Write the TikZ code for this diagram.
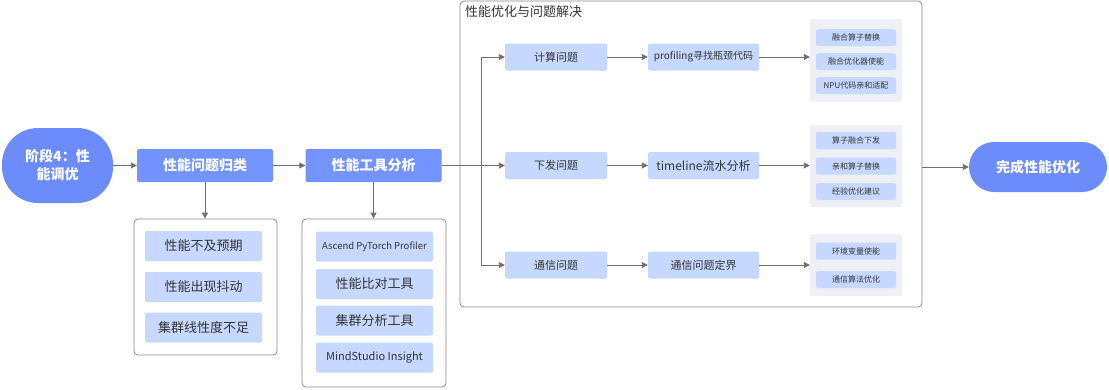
\documentclass[tikz,border=0pt]{standalone}
\usepackage{fontspec}
\setmainfont{Noto Sans CJK SC}
\usetikzlibrary{arrows.meta,positioning}
\definecolor{cdark}{HTML}{7394FF}
\definecolor{cstage}{HTML}{6B8CFA}
\definecolor{clight}{HTML}{C6D8FF}
\definecolor{cgroup}{HTML}{EEF0F5}
\definecolor{cline}{HTML}{6E6E74}
\definecolor{cborder}{HTML}{8A8A90}
\definecolor{ctext}{HTML}{333333}
\tikzset{
  darkbox/.style={fill=cdark, draw=none, rounded corners=2pt, text=white, font=\fontsize{14}{16}\selectfont\bfseries, minimum width=136pt, minimum height=33pt, inner sep=0pt},
  stagebox/.style={fill=cstage, draw=none, rounded corners=25pt, text=white, font=\fontsize{14}{18}\selectfont\bfseries, inner sep=0pt, align=center},
  itembox/.style={fill=clight, draw=none, rounded corners=2pt, text=ctext, font=\fontsize{13}{15}\selectfont, minimum width=117pt, minimum height=30pt, inner sep=0pt},
  rowbox/.style={fill=clight, draw=none, rounded corners=2pt, text=ctext, font=\fontsize{11}{13}\selectfont, minimum height=27pt, inner sep=0pt},
  smallbox/.style={fill=clight, draw=none, rounded corners=2pt, text=ctext, font=\fontsize{8}{10}\selectfont, minimum width=80pt, minimum height=17pt, inner sep=0pt},
  groupbox/.style={fill=cgroup, draw=none, rounded corners=2pt, minimum width=92pt, inner sep=0pt},
  contbox/.style={fill=white, draw=cborder, line width=0.8pt, rounded corners=4pt, inner sep=0pt},
  conn/.style={draw=cline, line width=0.9pt},
  arr/.style={conn, -{Triangle[length=6pt,width=6pt]}},
}
\begin{document}
\begin{tikzpicture}[x=1pt,y=-1pt]
\useasboundingbox (0,0) rectangle (1109,389);
% containers
\node[contbox, minimum width=143pt, minimum height=136pt] (c1) at (205.5,287) {};
\node[contbox, minimum width=144pt, minimum height=168pt] (c2) at (374,303) {};
\node[contbox, minimum width=462pt, minimum height=306pt] (c3) at (691,154) {};
\node[anchor=north west, text=ctext, font=\fontsize{13}{15}\selectfont, inner sep=0pt] (title) at (465,5) {性能优化与问题解决};
% left chain
\node[stagebox, rounded corners=36pt, minimum width=111pt, minimum height=75pt] (stage) at (57.5,165.5) {阶段4：性\\能调优};
\node[darkbox] (cls) at (205,165.5) {性能问题归类};
\node[darkbox] (tool) at (373.5,165.5) {性能工具分析};
% list 1
\node[itembox] (p1) at (203.5,246) {性能不及预期};
\node[itembox] (p2) at (203.5,287) {性能出现抖动};
\node[itembox] (p3) at (203.5,327.5) {集群线性度不足};
% list 2
\node[itembox, font=\fontsize{9.5}{11}\selectfont] (t1) at (374.5,246.5) {Ascend PyTorch Profiler};
\node[itembox] (t2) at (374.5,284) {性能比对工具};
\node[itembox] (t3) at (374.5,320.5) {集群分析工具};
\node[itembox, font=\fontsize{11}{13}\selectfont] (t4) at (374.5,357.5) {MindStudio Insight};
% rows
\coordinate (split) at (481,165.5);
\coordinate (splittop) at (481,57);
\coordinate (splitbot) at (481,265);
\node[rowbox, minimum width=102pt] (r1) at (556,57) {计算问题};
\node[rowbox, minimum width=102pt] (r2) at (556,165.5) {下发问题};
\node[rowbox, minimum width=102pt] (r3) at (556,265) {通信问题};
\node[rowbox, minimum width=111pt, font=\fontsize{10}{12}\selectfont] (a1) at (703.5,57) {profiling寻找瓶颈代码};
\node[rowbox, minimum width=111pt, font=\fontsize{12}{14}\selectfont] (a2) at (703.5,165.5) {timeline流水分析};
\node[rowbox, minimum width=111pt] (a3) at (703.5,265) {通信问题定界};
% groups
\node[groupbox, minimum height=83pt] (g1) at (856,60.5) {};
\node[groupbox, minimum height=82pt] (g2) at (856,166) {};
\node[groupbox, minimum height=62pt] (g3) at (856,265) {};
\node[smallbox] (s11) at (856,37.5) {融合算子替换};
\node[smallbox] (s12) at (856,61.5) {融合优化器使能};
\node[smallbox] (s13) at (856,85.5) {NPU代码亲和适配};
\node[smallbox] (s21) at (856,140.5) {算子融合下发};
\node[smallbox] (s22) at (856,166) {亲和算子替换};
\node[smallbox] (s23) at (856,191.5) {经验优化建议};
\node[smallbox] (s31) at (856,251) {环境变量使能};
\node[smallbox] (s32) at (856,279.5) {通信算法优化};
% end
\node[stagebox, minimum width=138pt, minimum height=50pt, font=\fontsize{14}{16}\selectfont\bfseries] (done) at (1038,167) {完成性能优化};
% connectors
\draw[arr] (stage.east) -- (stage.east -| cls.west);
\draw[arr] (cls.east) -- (cls.east -| tool.west);
\draw[arr] (cls.south) -- (cls.south |- c1.north);
\draw[arr] (tool.south) -- (tool.south |- c2.north);
\draw[conn] (tool.east) -- (split);
\draw[conn] (splittop) -- (splitbot);
\draw[arr] (splittop) -- (r1.west);
\draw[arr] (split) -- (r2.west);
\draw[arr] (splitbot) -- (r3.west);
\draw[arr] (r1.east) -- (a1.west);
\draw[arr] (r2.east) -- (a2.west);
\draw[arr] (r3.east) -- (a3.west);
\draw[arr] (a1.east) -- (a1.east -| g1.west);
\draw[arr] (a2.east) -- (a2.east -| g2.west);
\draw[arr] (a3.east) -- (a3.east -| g3.west);
\draw[arr] (c3.east |- done.west) -- (done.west);
\end{tikzpicture}
\end{document}
